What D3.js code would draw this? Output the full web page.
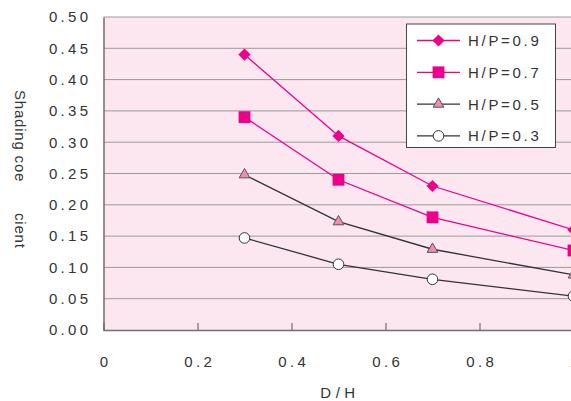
<!DOCTYPE html>
<html><head><meta charset="utf-8">
<script src="https://cdn.jsdelivr.net/npm/d3@7"></script>
<style>
html,body{margin:0;padding:0;background:#fff;}
svg{display:block;font-family:"Liberation Sans",Arial,sans-serif;}
</style></head>
<body><svg id="c" width="571" height="401"></svg>
<script>
const xValues = [0.3, 0.5, 0.7, 1.0];
const hp09 = [0.44, 0.31, 0.23, 0.16];
const hp07 = [0.34, 0.24, 0.18, 0.127];
const hp05 = [0.248, 0.173, 0.129, 0.088];
const hp03 = [0.147, 0.105, 0.081, 0.054];
const seriesNames = ["H/P=0.9", "H/P=0.7", "H/P=0.5", "H/P=0.3"];
const xTicks = [0, 0.2, 0.4, 0.6, 0.8, 1];
const yTicks = [0, 0.05, 0.1, 0.15, 0.2, 0.25, 0.3, 0.35, 0.4, 0.45, 0.5];

const svg = d3.select("#c");
const L = 103.5, T = 17, B = 330;
const x = d3.scaleLinear().domain([0, 1]).range([L, L + 470]);
const y = d3.scaleLinear().domain([0, 0.5]).range([B, T]);
const FONT = "Liberation Sans, Arial, sans-serif";
const TS = 3.3; // tick letter-spacing

svg.append("rect").attr("x", L).attr("y", T).attr("width", 600 - L).attr("height", B - T).attr("fill", "#fce6f0");

// gridlines
svg.append("g").selectAll("line").data(yTicks.filter(d => d > 0)).join("line")
  .attr("x1", L).attr("x2", 600).attr("y1", d => y(d)).attr("y2", d => y(d))
  .attr("stroke", "#9a9a9a").attr("stroke-width", 1);

// axes
const yAxis = d3.axisLeft(y).tickValues(yTicks).tickFormat(d3.format(".2f")).tickSize(0).tickPadding(12.2);
const gy = svg.append("g").attr("transform", `translate(${L},0)`).call(yAxis);
gy.select(".domain").attr("stroke", "#707070").attr("stroke-width", 1.5);
gy.selectAll("text").attr("font-size", 15).attr("fill", "#333").attr("letter-spacing", TS)
  .attr("font-family", FONT);

const xAxis = d3.axisBottom(x).tickValues(xTicks).tickFormat(d => d === 0 || d === 1 ? d3.format("d")(d) : d3.format(".1f")(d)).tickSize(-7).tickPadding(26.5);
const gx = svg.append("g").attr("transform", `translate(0,${B})`).call(xAxis);
gx.select(".domain").attr("stroke", "#707070").attr("stroke-width", 1.5);
gx.selectAll(".tick line").attr("stroke", "#707070").attr("stroke-width", 1.2);
gx.selectAll(".tick").filter(d => d === 0).select("line").remove();
gx.selectAll("text").attr("font-size", 15).attr("fill", "#333").attr("letter-spacing", TS)
  .attr("dx", TS / 2).attr("font-family", FONT);

// titles
svg.append("text").attr("x", 338 + 2).attr("y", 398).attr("text-anchor", "middle")
  .attr("font-size", 15).attr("fill", "#333").attr("letter-spacing", 4.5).text("D/H");
svg.append("text").attr("transform", "translate(15,90) rotate(90)")
  .attr("font-size", 15).attr("fill", "#333").attr("letter-spacing", 0.8).text("Shading coe");
svg.append("text").attr("transform", "translate(15,213) rotate(90)")
  .attr("font-size", 15).attr("fill", "#333").attr("letter-spacing", 0.8).text("cient");

const magenta = "#ec008c";
const series = [
  {name: seriesNames[0], vals: hp09, line: magenta, shape: "diamond"},
  {name: seriesNames[1], vals: hp07, line: magenta, shape: "square"},
  {name: seriesNames[2], vals: hp05, line: "#333", shape: "triangle"},
  {name: seriesNames[3], vals: hp03, line: "#333", shape: "circle"}
];

function marker(g, shape, cx, cy) {
  if (shape === "diamond") {
    g.append("path").attr("d", d3.symbol().type(d3.symbolDiamond2 || d3.symbolDiamond).size(95)())
      .attr("transform", `translate(${cx},${cy})`).attr("fill", magenta);
  } else if (shape === "square") {
    g.append("path").attr("d", d3.symbol().type(d3.symbolSquare).size(140)())
      .attr("transform", `translate(${cx},${cy})`).attr("fill", magenta);
  } else if (shape === "triangle") {
    g.append("path").attr("d", d3.symbol().type(d3.symbolTriangle).size(50)())
      .attr("transform", `translate(${cx},${cy})`).attr("fill", "#f08cb4").attr("stroke", "#555").attr("stroke-width", 1);
  } else {
    g.append("circle").attr("cx", cx).attr("cy", cy).attr("r", 5.3)
      .attr("fill", "#fff").attr("stroke", "#333").attr("stroke-width", 1);
  }
}

const line = d3.line().x(d => x(d[0])).y(d => y(d[1]));
series.forEach(s => {
  const pts = xValues.map((v, i) => [v, s.vals[i]]);
  svg.append("path").attr("d", line(pts)).attr("fill", "none").attr("stroke", s.line).attr("stroke-width", 1.3);
  const g = svg.append("g");
  pts.forEach(p => marker(g, s.shape, x(p[0]), y(p[1])));
});

// legend
const lg = svg.append("g");
lg.append("rect").attr("x", 406.5).attr("y", 24).attr("width", 149).attr("height", 123.5)
  .attr("fill", "#fff").attr("stroke", "#444").attr("stroke-width", 1);
series.forEach((s, i) => {
  const cy = 40.5 + i * 31.8;
  lg.append("line").attr("x1", 417).attr("x2", 460).attr("y1", cy).attr("y2", cy)
    .attr("stroke", s.line).attr("stroke-width", 1.3);
  marker(lg, s.shape, 438.5, cy);
  lg.append("text").attr("x", 468).attr("y", cy + 5.5).attr("font-size", 15).attr("fill", "#333")
    .attr("letter-spacing", 2.7).attr("font-family", FONT).text(s.name);
});
</script></body></html>
